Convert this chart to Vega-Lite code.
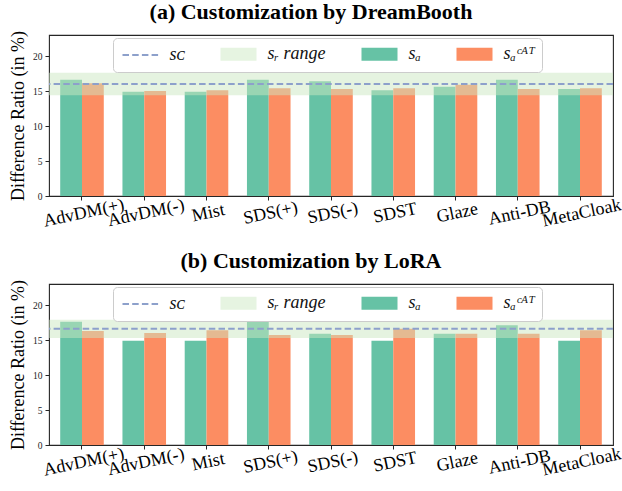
{
  "$schema": "https://vega.github.io/schema/vega-lite/v6.json",
  "background": "white",
  "padding": {"left": 8, "top": 0, "right": 8, "bottom": 4},
  "config": {
    "font": "Liberation Serif",
    "view": {"stroke": "#262626", "strokeWidth": 1.1},
    "axis": {
      "domain": false,
      "grid": false,
      "tickColor": "#262626",
      "tickSize": 4,
      "labelFont": "Liberation Serif",
      "titleFont": "Liberation Serif",
      "titleFontWeight": "normal",
      "labelColor": "#222222",
      "titleColor": "#000000"
    },
    "legend": {
      "title": null,
      "orient": "none",
      "legendX": 64,
      "legendY": 3,
      "direction": "horizontal",
      "columns": 4,
      "zindex": 1,
      "fillColor": "white",
      "strokeColor": "#cccccc",
      "cornerRadius": 4,
      "padding": 7,
      "labelFont": "Liberation Serif",
      "labelFontSize": 18,
      "labelFontStyle": "italic",
      "labelColor": "#111111",
      "symbolSize": 169,
      "symbolOffset": 11.5,
      "labelOffset": 20,
      "columnPadding": 31
    },
    "title": {
      "font": "Liberation Serif",
      "fontSize": 22,
      "fontWeight": "bold",
      "color": "#000000",
      "anchor": "middle",
      "frame": "group",
      "dx": -20,
      "offset": 6
    }
  },
  "datasets": {
    "bars": [
      {"panel": "a", "method": "AdvDM(+)", "series": "s_a", "value": 16.6},
      {"panel": "a", "method": "AdvDM(+)", "series": "s_aCAT", "value": 16.1},
      {"panel": "a", "method": "AdvDM(-)", "series": "s_a", "value": 14.9},
      {"panel": "a", "method": "AdvDM(-)", "series": "s_aCAT", "value": 15.0},
      {"panel": "a", "method": "Mist", "series": "s_a", "value": 14.9},
      {"panel": "a", "method": "Mist", "series": "s_aCAT", "value": 15.1},
      {"panel": "a", "method": "SDS(+)", "series": "s_a", "value": 16.6},
      {"panel": "a", "method": "SDS(+)", "series": "s_aCAT", "value": 15.4},
      {"panel": "a", "method": "SDS(-)", "series": "s_a", "value": 16.4},
      {"panel": "a", "method": "SDS(-)", "series": "s_aCAT", "value": 15.3},
      {"panel": "a", "method": "SDST", "series": "s_a", "value": 15.1},
      {"panel": "a", "method": "SDST", "series": "s_aCAT", "value": 15.4},
      {"panel": "a", "method": "Glaze", "series": "s_a", "value": 15.6},
      {"panel": "a", "method": "Glaze", "series": "s_aCAT", "value": 15.9},
      {"panel": "a", "method": "Anti-DB", "series": "s_a", "value": 16.6},
      {"panel": "a", "method": "Anti-DB", "series": "s_aCAT", "value": 15.3},
      {"panel": "a", "method": "MetaCloak", "series": "s_a", "value": 15.3},
      {"panel": "a", "method": "MetaCloak", "series": "s_aCAT", "value": 15.4},
      {"panel": "b", "method": "AdvDM(+)", "series": "s_a", "value": 17.6},
      {"panel": "b", "method": "AdvDM(+)", "series": "s_aCAT", "value": 16.3},
      {"panel": "b", "method": "AdvDM(-)", "series": "s_a", "value": 14.9},
      {"panel": "b", "method": "AdvDM(-)", "series": "s_aCAT", "value": 16.0},
      {"panel": "b", "method": "Mist", "series": "s_a", "value": 14.9},
      {"panel": "b", "method": "Mist", "series": "s_aCAT", "value": 16.4},
      {"panel": "b", "method": "SDS(+)", "series": "s_a", "value": 18.1},
      {"panel": "b", "method": "SDS(+)", "series": "s_aCAT", "value": 15.7},
      {"panel": "b", "method": "SDS(-)", "series": "s_a", "value": 15.9},
      {"panel": "b", "method": "SDS(-)", "series": "s_aCAT", "value": 15.7},
      {"panel": "b", "method": "SDST", "series": "s_a", "value": 14.9},
      {"panel": "b", "method": "SDST", "series": "s_aCAT", "value": 16.6},
      {"panel": "b", "method": "Glaze", "series": "s_a", "value": 15.9},
      {"panel": "b", "method": "Glaze", "series": "s_aCAT", "value": 15.9},
      {"panel": "b", "method": "Anti-DB", "series": "s_a", "value": 17.1},
      {"panel": "b", "method": "Anti-DB", "series": "s_aCAT", "value": 15.9},
      {"panel": "b", "method": "MetaCloak", "series": "s_a", "value": 14.9},
      {"panel": "b", "method": "MetaCloak", "series": "s_aCAT", "value": 16.4}
    ],
    "ref": [
      {"panel": "a", "sc": 16.0, "lo": 14.4, "hi": 17.6},
      {"panel": "b", "sc": 16.6, "lo": 15.3, "hi": 17.9}
    ]
  },
  "spacing": 18,
  "resolve": {"scale": {"color": "independent"}, "legend": {"color": "independent"}},
  "vconcat": [
    {
      "width": 564,
      "height": 161,
      "title": {"text": "(a) Customization by DreamBooth"},
      "layer": [
        {
          "data": {"name": "bars"},
          "transform": [{"filter": "datum.panel === 'a'"}],
          "mark": {"type": "bar"},
          "encoding": {
            "x": {
              "field": "method", "type": "nominal", "sort": null,
              "scale": {"paddingInner": 0.3, "paddingOuter": 0.18},
              "axis": {"title": null, "labelFont": "Liberation Serif", "labelAngle": -12, "labelAlign": "center", "labelBaseline": "top", "labelFontSize": 18, "labelPadding": 4, "labelOverlap": false, "labelBound": false, "labelFlush": false, "labelColor": "#000000"}
            },
            "xOffset": {"field": "series", "type": "nominal", "sort": ["s_a", "s_aCAT"], "scale": {"paddingInner": 0, "paddingOuter": 0}},
            "y": {
              "field": "value", "type": "quantitative",
              "scale": {"domain": [0, 23], "nice": false},
              "axis": {"values": [0, 5, 10, 15, 20], "title": "Difference Ratio (in %)", "titleFont": "Liberation Serif", "titleFontSize": 18, "labelFontSize": 9.5, "titlePadding": 5, "labelPadding": 3}
            },
            "color": {
              "field": "series", "type": "nominal",
              "scale": {"domain": ["s_c", "s_r", "s_a", "s_aCAT"], "range": ["#8da0cb", "#e6f4e1", "#66c2a5", "#fc8d62"]},
              "legend": {
                "labelFont": "Liberation Serif",
                "labelExpr": "datum.value === 's_c' ? 'sᴄ' : datum.value === 's_r' ? 'sᵣ range' : datum.value === 's_a' ? 'sₐ' : 'sₐᶜᴬᵀ'",
                "encode": {"symbols": {"update": {
                  "shape": {"signal": "datum.value === 's_c' ? 'M-2.77,0H2.77' : 'M-2.77,-1H2.77V1H-2.77Z'"},
                  "fill": {"signal": "datum.value === 's_c' ? 'transparent' : datum.value === 's_r' ? '#e6f4e1' : datum.value === 's_a' ? '#66c2a5' : '#fc8d62'"},
                  "stroke": {"signal": "datum.value === 's_c' ? '#8da0cb' : 'transparent'"},
                  "strokeWidth": {"value": 2},
                  "strokeDash": {"signal": "datum.value === 's_c' ? [6.5, 3.2] : [1, 0]"},
                  "opacity": {"value": 1}, "fillOpacity": {"value": 1}, "strokeOpacity": {"value": 1}
                }}}
              }
            }
          }
        },
        {
          "data": {"name": "ref"},
          "transform": [{"filter": "datum.panel === 'a'"}],
          "mark": {"type": "rect", "fill": "#cbe7c1", "opacity": 0.5},
          "encoding": {
            "y": {"field": "lo", "type": "quantitative"},
            "y2": {"field": "hi"}
          }
        },
        {
          "data": {"name": "ref"},
          "transform": [{"filter": "datum.panel === 'a'"}],
          "mark": {"type": "rule", "color": "#8da0cb", "strokeDash": [6.5, 3.2], "strokeWidth": 2},
          "encoding": {
            "y": {"field": "sc", "type": "quantitative"}
          }
        }
      ]
    },
    {
      "width": 564,
      "height": 161,
      "title": {"text": "(b) Customization by LoRA"},
      "layer": [
        {
          "data": {"name": "bars"},
          "transform": [{"filter": "datum.panel === 'b'"}],
          "mark": {"type": "bar"},
          "encoding": {
            "x": {
              "field": "method", "type": "nominal", "sort": null,
              "scale": {"paddingInner": 0.3, "paddingOuter": 0.18},
              "axis": {"title": null, "labelFont": "Liberation Serif", "labelAngle": -12, "labelAlign": "center", "labelBaseline": "top", "labelFontSize": 18, "labelPadding": 4, "labelOverlap": false, "labelBound": false, "labelFlush": false, "labelColor": "#000000"}
            },
            "xOffset": {"field": "series", "type": "nominal", "sort": ["s_a", "s_aCAT"], "scale": {"paddingInner": 0, "paddingOuter": 0}},
            "y": {
              "field": "value", "type": "quantitative",
              "scale": {"domain": [0, 23], "nice": false},
              "axis": {"values": [0, 5, 10, 15, 20], "title": "Difference Ratio (in %)", "titleFont": "Liberation Serif", "titleFontSize": 18, "labelFontSize": 9.5, "titlePadding": 5, "labelPadding": 3}
            },
            "color": {
              "field": "series", "type": "nominal",
              "scale": {"domain": ["s_c", "s_r", "s_a", "s_aCAT"], "range": ["#8da0cb", "#e6f4e1", "#66c2a5", "#fc8d62"]},
              "legend": {
                "labelFont": "Liberation Serif",
                "labelExpr": "datum.value === 's_c' ? 'sᴄ' : datum.value === 's_r' ? 'sᵣ range' : datum.value === 's_a' ? 'sₐ' : 'sₐᶜᴬᵀ'",
                "encode": {"symbols": {"update": {
                  "shape": {"signal": "datum.value === 's_c' ? 'M-2.77,0H2.77' : 'M-2.77,-1H2.77V1H-2.77Z'"},
                  "fill": {"signal": "datum.value === 's_c' ? 'transparent' : datum.value === 's_r' ? '#e6f4e1' : datum.value === 's_a' ? '#66c2a5' : '#fc8d62'"},
                  "stroke": {"signal": "datum.value === 's_c' ? '#8da0cb' : 'transparent'"},
                  "strokeWidth": {"value": 2},
                  "strokeDash": {"signal": "datum.value === 's_c' ? [6.5, 3.2] : [1, 0]"},
                  "opacity": {"value": 1}, "fillOpacity": {"value": 1}, "strokeOpacity": {"value": 1}
                }}}
              }
            }
          }
        },
        {
          "data": {"name": "ref"},
          "transform": [{"filter": "datum.panel === 'b'"}],
          "mark": {"type": "rect", "fill": "#cbe7c1", "opacity": 0.5},
          "encoding": {
            "y": {"field": "lo", "type": "quantitative"},
            "y2": {"field": "hi"}
          }
        },
        {
          "data": {"name": "ref"},
          "transform": [{"filter": "datum.panel === 'b'"}],
          "mark": {"type": "rule", "color": "#8da0cb", "strokeDash": [6.5, 3.2], "strokeWidth": 2},
          "encoding": {
            "y": {"field": "sc", "type": "quantitative"}
          }
        }
      ]
    }
  ]
}
